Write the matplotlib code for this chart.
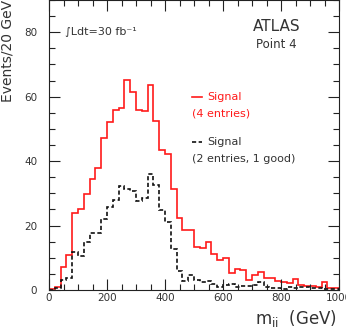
import numpy as np
import matplotlib
matplotlib.use("Agg")
from matplotlib import pyplot as plt
from matplotlib.ticker import MultipleLocator

# m_ii histogram, 20 GeV bins from 0 to 1000 GeV
bin_edges = np.arange(0, 1001, 20)

signal_4 = [0.3, 1.0, 7.2, 10.9, 23.8, 25.1, 29.8, 34.6, 38.0, 47.1,
            52.2, 56.0, 56.5, 65.1, 61.5, 55.8, 55.6, 63.5, 52.3, 43.4,
            42.3, 31.5, 22.4, 18.6, 18.6, 13.5, 12.9, 14.8, 11.3, 9.3,
            9.8, 5.2, 6.6, 6.3, 3.0, 4.8, 5.7, 3.6, 3.6, 2.9,
            2.6, 2.1, 3.3, 1.6, 1.3, 1.3, 1.0, 2.6, 0.6, 0.6]

signal_2 = [0.0, 0.5, 3.1, 3.6, 11.9, 10.5, 15.0, 17.8, 17.6, 21.9,
            25.8, 27.9, 32.2, 31.5, 30.8, 27.6, 28.6, 36.0, 32.6, 24.8,
            21.2, 12.7, 5.8, 2.7, 4.7, 3.1, 2.6, 2.8, 1.8, 0.8,
            1.6, 1.8, 1.0, 1.3, 1.3, 1.6, 2.6, 0.8, 0.5, 0.5,
            0.2, 0.8, 0.5, 1.0, 0.8, 0.5, 0.5, 0.2, 0.3, 0.2]

red = "#ff1a1a"
txt = "#333333"

fig = plt.figure(figsize=(3.46, 3.28), dpi=100)
ax = fig.add_axes([49/346, 38/328, 290/346, 290/328])

ax.stairs(signal_4, bin_edges, color=red, lw=1.2)
ax.stairs(signal_2, bin_edges, color="#111111", lw=1.2, linestyle=(0, (2.5, 1.5)))

ax.set_xlim(0, 1000)
ax.set_ylim(0, 90)
ax.xaxis.set_major_locator(MultipleLocator(200))
ax.xaxis.set_minor_locator(MultipleLocator(50))
ax.yaxis.set_major_locator(MultipleLocator(20))
ax.yaxis.set_minor_locator(MultipleLocator(5))
ax.tick_params(which="both", direction="in", top=True, right=True,
               color="#222222", labelcolor=txt, labelsize=7.5)
ax.tick_params(which="major", length=8, width=0.8)
ax.tick_params(which="minor", length=4.5, width=0.8)
ax.tick_params(axis="x", pad=2)
ax.tick_params(axis="y", pad=8.5)
for s in ax.spines.values():
    s.set_linewidth(0.8)
    s.set_color("#222222")

ax.set_ylabel("Events/20 GeV", loc="top", fontsize=10, color=txt)
ax.yaxis.set_label_coords(-0.12, 1.0)
ax.set_xlabel(r"m$_{\rm ii}$  (GeV)", loc="right", fontsize=12, color=txt)
ax.xaxis.set_label_coords(0.993, -0.062)

ax.text(0.055, 0.89, "∫Ldt=30 fb⁻¹", transform=ax.transAxes,
        fontsize=8, color=txt, va="center")
ax.text(0.786, 0.907, "ATLAS", transform=ax.transAxes,
        fontsize=11, color=txt, ha="center", va="center")
ax.text(0.784, 0.848, "Point 4", transform=ax.transAxes,
        fontsize=8.5, color=txt, ha="center", va="center")

# hand-made legend
ax.plot([0.493, 0.528], [0.666, 0.666], color=red, lw=1.2, transform=ax.transAxes)
ax.text(0.545, 0.666, "Signal", transform=ax.transAxes, fontsize=8,
        color=red, va="center")
ax.text(0.493, 0.610, "(4 entries)", transform=ax.transAxes, fontsize=8,
        color=red, va="center")
ax.plot([0.493, 0.528], [0.510, 0.510], color="#111111", lw=1.2,
        linestyle=(0, (2.5, 1.5)), transform=ax.transAxes)
ax.text(0.545, 0.510, "Signal", transform=ax.transAxes, fontsize=8,
        color=txt, va="center")
ax.text(0.493, 0.452, "(2 entries, 1 good)", transform=ax.transAxes,
        fontsize=8, color=txt, va="center")

plt.savefig("out.png", dpi=100)
